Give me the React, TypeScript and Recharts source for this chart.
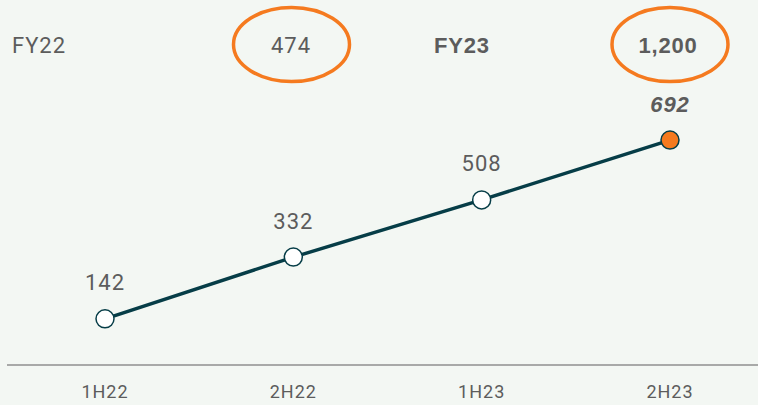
import { LineChart, Line, XAxis, YAxis, LabelList } from "recharts";

const periods = ["1H22", "2H22", "1H23", "2H23"];
const profit = [142, 332, 508, 692];
const fyLabels = ["FY22", "FY23"];
const fyTotals = [474, 1200];

const data = periods.map((p, i) => ({ period: p, value: profit[i] }));

const TEAL = "#063d47";
const ORANGE = "#f57a1f";
const GREY = "#5c5c5c";
const BG = "#f3f7f3";
const FONT = "Roboto, 'Noto Sans', sans-serif";
const BOLD_FONT = "'Liberation Sans', Arial, sans-serif";

const lastIdx = profit.length - 1;

const Dot = (props: any) => {
    const { cx, cy, index } = props;
    if (cx == null || cy == null) return null;
    return (
        <circle
            key={`dot-${index}`}
            cx={cx}
            cy={cy}
            r={9}
            fill={index === lastIdx ? ORANGE : "#ffffff"}
            stroke={TEAL}
            strokeWidth={1.5}
        />
    );
};

const ValueLabel = (props: any) => {
    const { x, y, value, index } = props;
    const last = index === lastIdx;
    return (
        <text
            x={x}
            y={y - 36}
            textAnchor="middle"
            dominantBaseline="central"
            fill={GREY}
            fontFamily={last ? BOLD_FONT : FONT}
            fontSize={22}
            letterSpacing={1}
            fontWeight={last ? 700 : 400}
            fontStyle={last ? "italic" : "normal"}
        >
            {value.toLocaleString("en-US")}
        </text>
    );
};

// header row: FY label + circled total
const Header = () => (
    <svg width={758} height={95} style={{ position: "absolute", left: 0, top: 0 }}>
        <text x={12} y={45} dominantBaseline="central" fill={GREY} fontFamily={FONT} fontSize={22} letterSpacing={1}>
            {fyLabels[0]}
        </text>
        <ellipse cx={291.5} cy={44.5} rx={58} ry={37} fill="none" stroke={ORANGE} strokeWidth={3.5} />
        <text x={291} y={45} textAnchor="middle" dominantBaseline="central" fill={GREY} fontFamily={FONT} fontSize={22} letterSpacing={1}>
            {fyTotals[0].toLocaleString("en-US")}
        </text>
        <text x={462} y={45} textAnchor="middle" dominantBaseline="central" fill={GREY} fontFamily={BOLD_FONT} fontSize={22} fontWeight={700} letterSpacing={0.8}>
            {fyLabels[1]}
        </text>
        <ellipse cx={670} cy={44.5} rx={58} ry={37} fill="none" stroke={ORANGE} strokeWidth={3.5} />
        <text x={668} y={45} textAnchor="middle" dominantBaseline="central" fill={GREY} fontFamily={BOLD_FONT} fontSize={22} fontWeight={700} letterSpacing={0.8}>
            {fyTotals[1].toLocaleString("en-US")}
        </text>
    </svg>
);

export default function App() {
    return (
        <div style={{ position: "fixed", left: 0, top: 0, width: 758, height: 405, background: BG, overflow: "hidden" }}>
            <Header />
            <LineChart
                width={758}
                height={405}
                data={data}
                margin={{ top: 105, right: 0, bottom: 0, left: 7 }}
            >
                <XAxis
                    dataKey="period"
                    height={40}
                    padding={{ left: 98, right: 88 }}
                    axisLine={{ stroke: "#8f8f8f", strokeWidth: 1.5 }}
                    tickLine={false}
                    tick={{ fill: GREY, fontFamily: FONT, fontSize: 18, letterSpacing: 1 }}
                    tickMargin={14}
                    interval={0}
                />
                <YAxis hide domain={[0, 800]} />
                <Line
                    dataKey="value"
                    stroke={TEAL}
                    strokeWidth={3.5}
                    dot={<Dot />}
                    activeDot={false}
                    isAnimationActive={false}
                >
                    <LabelList dataKey="value" content={<ValueLabel />} />
                </Line>
            </LineChart>
        </div>
    );
}
